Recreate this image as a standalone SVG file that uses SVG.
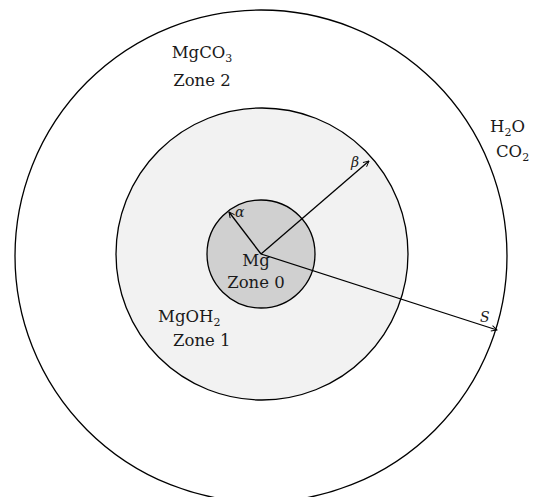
<svg xmlns="http://www.w3.org/2000/svg" width="533" height="497" viewBox="0 0 533 497">
<style>
.c{stroke:#000;stroke-width:1.3}
.t{font-family:"DejaVu Serif","Liberation Serif",serif;font-size:16.5px;fill:#1a1a1a}
.i{font-style:italic;font-size:14px}
.s{font-size:11px}
.a{stroke:#000;stroke-width:1.3;fill:none}
</style>
<defs>
<marker id="ah" viewBox="0 0 10 10" refX="9" refY="5" markerWidth="7" markerHeight="7" orient="auto" markerUnits="userSpaceOnUse">
<path d="M1,1 L9,5 L1,9" fill="none" stroke="#000" stroke-width="1.3"/>
</marker>
</defs>
<rect width="533" height="497" fill="#fff"/>
<g id="zone2">
<circle class="c" cx="261" cy="256" r="246" fill="#fff"/>
<text class="t" x="202" y="58" text-anchor="middle">MgCO<tspan class="s" dy="4">3</tspan></text>
<text class="t" x="202" y="86" text-anchor="middle">Zone 2</text>
</g>
<g id="zone1">
<circle class="c" cx="262" cy="254" r="146" fill="#f2f2f2"/>
<text class="t" x="158" y="322">MgOH<tspan class="s" dy="4">2</tspan></text>
<text class="t" x="173" y="346">Zone 1</text>
</g>
<g id="zone0">
<circle class="c" cx="261" cy="254" r="54" fill="#d0d0d0"/>
<text class="t" x="256" y="266" text-anchor="middle">Mg</text>
<text class="t" x="256" y="288" text-anchor="middle">Zone 0</text>
</g>
<g id="gases">
<text class="t" x="490" y="132">H<tspan class="s" dy="4">2</tspan><tspan dy="-4">O</tspan></text>
<text class="t" x="496" y="157">CO<tspan class="s" dy="4">2</tspan></text>
</g>
<g id="connectors">
<line class="a" x1="261" y1="254" x2="229" y2="212" marker-end="url(#ah)"/>
<line class="a" x1="261" y1="254" x2="369" y2="161" marker-end="url(#ah)"/>
<line class="a" x1="261" y1="254" x2="497" y2="330" marker-end="url(#ah)"/>
<text class="t i" x="235" y="217">α</text>
<text class="t i" x="351" y="167">β</text>
<text class="t i" x="480" y="322">S</text>
</g>
</svg>
